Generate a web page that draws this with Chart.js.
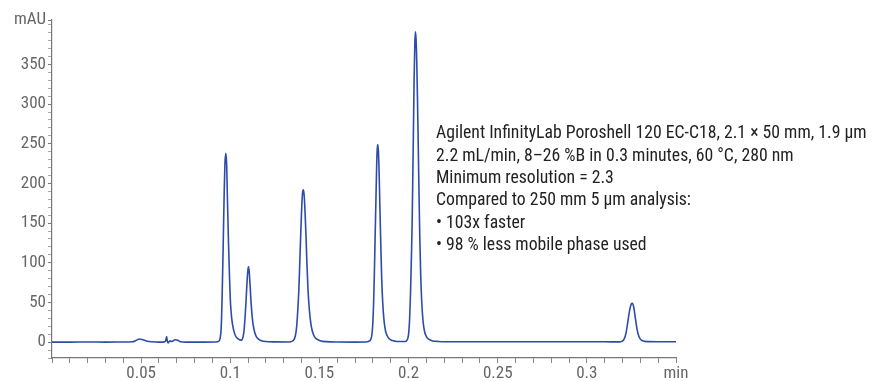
<!DOCTYPE html>
<html>
<head>
<meta charset="utf-8">
<script src="https://cdn.jsdelivr.net/npm/chart.js@4"></script>
<style>
  html, body { margin: 0; padding: 0; background: #fff; }
  #wrap { width: 889px; height: 381px; }
</style>
</head>
<body>
<div id="wrap"><canvas id="chrom"></canvas></div>
<script>
// retention time (min) and absorbance (mAU)
const times = [
  0.000, 0.010, 0.020, 0.030, 0.040, 0.045, 0.047, 0.049, 0.051, 0.053, 0.056, 0.060,
  0.063, 0.0638, 0.0643, 0.0647, 0.0652, 0.0660, 0.0672, 0.0690, 0.0705, 0.0720, 0.0750, 0.0850, 0.0915,
  // peak 1
  0.0929, 0.0937, 0.0943, 0.0949, 0.0954, 0.0960, 0.0966, 0.0970, 0.0975, 0.0980, 0.0984, 0.0990,
  0.0996, 0.1001, 0.1008, 0.1018, 0.1029, 0.1044, 0.1059,
  // peak 2
  0.1064, 0.1071, 0.1077, 0.1083, 0.1088, 0.1093, 0.1098, 0.1102, 0.1106, 0.1111, 0.1116, 0.1122,
  0.1128, 0.1136, 0.1146, 0.1160, 0.1178, 0.1200, 0.1250, 0.1320,
  // peak 3
  0.1340, 0.1350, 0.1358, 0.1365, 0.1372, 0.1378, 0.1384, 0.1389, 0.1395, 0.1400, 0.1405, 0.1409,
  0.1414, 0.1419, 0.1425, 0.1430, 0.1436, 0.1443, 0.1451, 0.1460, 0.1472, 0.1488, 0.1508, 0.1540,
  0.1600, 0.1700, 0.1760,
  // peak 4
  0.1782, 0.1788, 0.1794, 0.1799, 0.1804, 0.1808, 0.1812, 0.1817, 0.1821, 0.1824, 0.1827, 0.1831,
  0.1835, 0.1839, 0.1844, 0.1849, 0.1855, 0.1862, 0.1870, 0.1880, 0.1893, 0.1908, 0.1925, 0.1950,
  // peak 5
  0.1982, 0.1990, 0.1996, 0.2001, 0.2006, 0.2011, 0.2016, 0.2020, 0.2023, 0.2027, 0.2031, 0.2035,
  0.2038, 0.2042, 0.2046, 0.2050, 0.2054, 0.2058, 0.2063, 0.2068, 0.2074, 0.2081, 0.2089, 0.2100,
  0.2115, 0.2135, 0.2160, 0.2200, 0.2400, 0.2600, 0.2800, 0.3000, 0.3100,
  // peak 6
  0.3185, 0.3196, 0.3205, 0.3213, 0.3221, 0.3228, 0.3234, 0.3240, 0.3246, 0.3250, 0.3254, 0.3258,
  0.3263, 0.3268, 0.3274, 0.3281, 0.3289, 0.3298, 0.3310, 0.3325, 0.3400, 0.3500
];
const absorbance = [
  0, 0, 0.2, 0, 0.2, 0.5, 2, 4, 3, 1.5, 0.5, 0,
  0.3, 2, 7, 1, -1, 1.5, 1, 3, 2.5, 0.5, 0, 0, 0.2,
  0.4, 1.5, 5, 18, 55, 120, 190, 225, 238, 222, 180, 125,
  80, 50, 30, 16, 8, 4, 2.5,
  2.5, 6, 14, 32, 50, 72, 89, 95, 89, 72, 52, 34,
  22, 13, 7, 3.5, 1.5, 0.7, 0.3, 0.2,
  0.5, 1.5, 3.5, 8, 19, 38, 63, 95, 135, 166, 187, 192,
  186, 166, 132, 98, 66, 42, 25, 14, 7, 3.5, 1.5, 0.6,
  0.2, 0, 0.2,
  1.5, 3.5, 9, 22, 50, 85, 128, 180, 222, 242, 249, 240,
  212, 172, 125, 82, 50, 28, 15, 8, 4, 2, 1.2, 0.8,
  0.8, 2, 5, 12, 30, 62, 108, 150, 196, 262, 330, 375,
  391, 382, 352, 306, 252, 196, 132, 85, 50, 27, 14, 7,
  3.5, 1.5, 1, 0.5, 0.4, 0.5, 0.4, 0.5, 0.4,
  0.3, 1, 2.5, 6, 13, 23, 32, 40, 46, 48.5, 49, 48,
  44, 37, 27, 17, 9, 4.5, 2, 1, 0.5, 0.5
];
const xLabels = [0.05, 0.1, 0.15, 0.2, 0.25, 0.3];
const yLabels = [0, 50, 100, 150, 200, 250, 300, 350];
const xUnit = "min";
const yUnit = "mAU";
const notes = [
  "Agilent InfinityLab Poroshell 120 EC-C18, 2.1 × 50 mm, 1.9 µm",
  "2.2 mL/min, 8–26 %B in 0.3 minutes, 60 °C, 280 nm",
  "Minimum resolution = 2.3",
  "Compared to 250 mm 5 µm analysis:",
  "• 103x faster",
  "• 98 % less mobile phase used"
];

const FONT = '"Liberation Sans Narrow", "Arial Narrow", "Roboto Condensed", sans-serif';
const X_MAX = 0.35, Y_MIN = -20, Y_MAX = 406;

const notesPlugin = {
  id: "notes",
  afterDraw(chart) {
    const ctx = chart.ctx;
    ctx.save();
    ctx.font = "17.7px " + FONT;
    ctx.fillStyle = "#222";
    ctx.textBaseline = "middle";
    notes.forEach((line, i) => ctx.fillText(line, 436, 134 + i * 22.3));
    ctx.restore();
  }
};

new Chart(document.getElementById("chrom"), {
  type: "line",
  data: {
    datasets: [{
      data: times.map((t, i) => ({ x: t, y: absorbance[i] })),
      borderColor: "#2d4ca8",
      borderWidth: 1.6,
      pointRadius: 0,
      cubicInterpolationMode: "monotone",
      fill: false
    }]
  },
  options: {
    responsive: true,
    maintainAspectRatio: false,
    animation: false,
    layout: { padding: { left: 0, right: 213, top: 20, bottom: 0 } },
    plugins: { legend: { display: false }, tooltip: { enabled: false } },
    scales: {
      x: {
        type: "linear",
        min: 0,
        max: X_MAX,
        afterBuildTicks(scale) {
          const t = [];
          for (let i = 0; i <= 35; i++) t.push({ value: i / 100 });
          scale.ticks = t;
        },
        afterFit(scale) { scale.height = 23; },
        border: { color: "#777", width: 1.2 },
        grid: { drawOnChartArea: false, tickLength: 5, color: "#888" },
        ticks: {
          autoSkip: false,
          maxRotation: 0,
          padding: 1,
          color: "#666",
          font: { family: FONT, size: 17 },
          callback(v) {
            const r = Math.round(v * 100) / 100;
            if (Math.abs(r - X_MAX) < 1e-9) return xUnit;
            return xLabels.some(l => Math.abs(l - r) < 1e-9) ? String(r) : "";
          }
        }
      },
      y: {
        min: Y_MIN,
        max: Y_MAX,
        afterBuildTicks(scale) {
          const t = [];
          for (let v = -20; v <= 400; v += 10) t.push({ value: v });
          t.push({ value: Y_MAX });
          scale.ticks = t;
        },
        afterFit(scale) { scale.width = 52; },
        border: { color: "#777", width: 1.2 },
        grid: {
          drawOnChartArea: false,
          tickLength: 4,
          color: ctx => (ctx.tick && (yLabels.includes(ctx.tick.value) || ctx.tick.value === Y_MAX)) ? "#777" : "#aaa"
        },
        ticks: {
          autoSkip: false,
          padding: 2,
          color: "#666",
          font: { family: FONT, size: 17 },
          callback(v) {
            if (v === Y_MAX) return yUnit;
            return yLabels.includes(v) ? String(v) : "";
          }
        }
      }
    }
  },
  plugins: [notesPlugin]
});
</script>
</body>
</html>
